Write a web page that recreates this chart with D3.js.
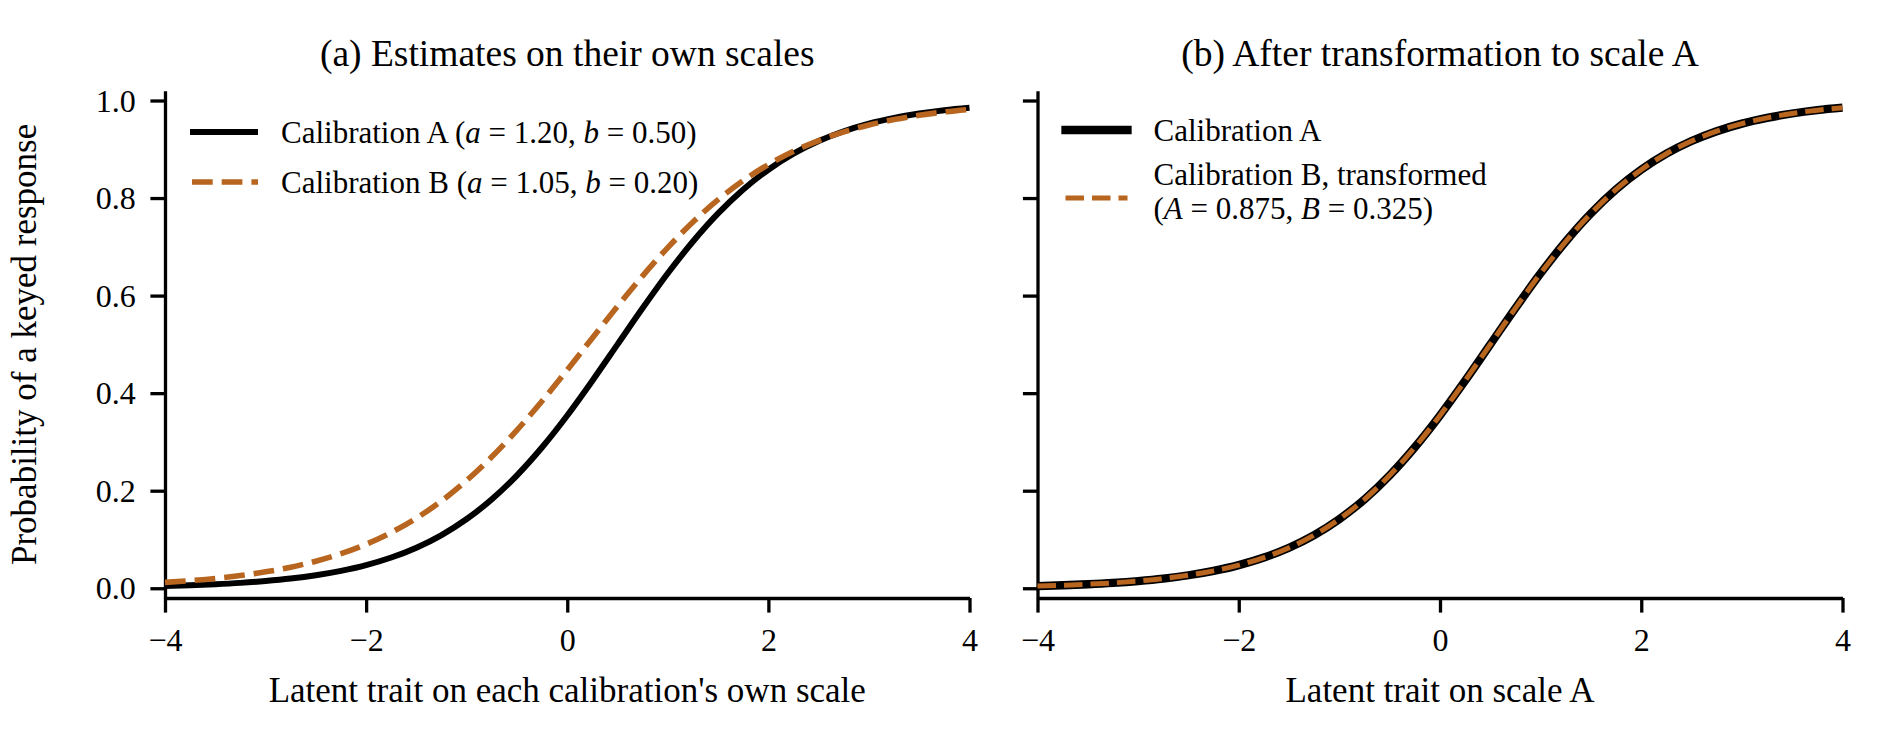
<!DOCTYPE html>
<html>
<head>
<meta charset="utf-8">
<script src="https://cdn.jsdelivr.net/npm/d3@7"></script>
<style>
  body { margin: 0; background: #fff; }
  svg text { font-family: "Liberation Serif", "Times New Roman", serif; fill: #000; }
</style>
</head>
<body>
<script>
// latent trait grid
const theta = [-4, -3.75, -3.5, -3.25, -3, -2.75, -2.5, -2.25, -2, -1.75, -1.5, -1.25, -1, -0.75, -0.5, -0.25,
  0, 0.25, 0.5, 0.75, 1, 1.25, 1.5, 1.75, 2, 2.25, 2.5, 2.75, 3, 3.25, 3.5, 3.75, 4]

// calibration A curve (panel a, solid black)
const probA = [0.0045, 0.0061, 0.0082, 0.0110, 0.0148, 0.0198, 0.0266, 0.0356, 0.0474, 0.0630, 0.0832, 0.1091,
  0.1419, 0.1824, 0.2315, 0.2891, 0.3543, 0.4256, 0.5000, 0.5744, 0.6457, 0.7109, 0.7685, 0.8176, 0.8581,
  0.8909, 0.9168, 0.9370, 0.9526, 0.9644, 0.9734, 0.9802, 0.9852]

// calibration B curve on its own scale (panel a, dashed)
const probB = [0.0120, 0.0156, 0.0201, 0.0260, 0.0336, 0.0432, 0.0555, 0.0709, 0.0903, 0.1143, 0.1437, 0.1791,
  0.2210, 0.2694, 0.3241, 0.3840, 0.4477, 0.5131, 0.5781, 0.6405, 0.6985, 0.7508, 0.7966, 0.8358, 0.8687,
  0.8959, 0.9179, 0.9357, 0.9498, 0.9609, 0.9697, 0.9765, 0.9818]

// calibration B after transformation to scale A (panel b, dashed)
const probBOnA = [0.0045, 0.0061, 0.0082, 0.0110, 0.0148, 0.0198, 0.0266, 0.0356, 0.0474, 0.0630, 0.0832, 0.1091,
  0.1419, 0.1824, 0.2315, 0.2891, 0.3543, 0.4256, 0.5000, 0.5744, 0.6457, 0.7109, 0.7685, 0.8176, 0.8581,
  0.8909, 0.9168, 0.9370, 0.9526, 0.9644, 0.9734, 0.9802, 0.9852]

const xTicks = [-4, -2, 0, 2, 4]
const yTicks = [0, 0.2, 0.4, 0.6, 0.8, 1.0]

const panelTitles = ['(a) Estimates on their own scales', '(b) After transformation to scale A']
const xLabels = ["Latent trait on each calibration's own scale", 'Latent trait on scale A']
const yLabel = 'Probability of a keyed response'

// legend text pieces, italic parts flagged
const legendA1 = [['Calibration A (', 0], ['a', 1], [' = 1.20, ', 0], ['b', 1], [' = 0.50)', 0]]
const legendA2 = [['Calibration B (', 0], ['a', 1], [' = 1.05, ', 0], ['b', 1], [' = 0.20)', 0]]
const legendB1 = [['Calibration A', 0]]
const legendB2a = [['Calibration B, transformed', 0]]
const legendB2b = [['(', 0], ['A', 1], [' = 0.875, ', 0], ['B', 1], [' = 0.325)', 0]]

const w = 1890
const h = 750
const orange = '#b8651f'
const spineW = 3.3
const tickLen = 14.6

const svg = d3.select('body')
  .append('svg')
  .attr('width', w)
  .attr('height', h)

const yScale = d3.scaleLinear()
  .domain([-0.02, 1.02])
  .range([598, 90.75])

const panels = [
  { left: 165, right: 969.5, showY: true },
  { left: 1037.5, right: 1842.5, showY: false }
]

function addText(g, pieces, x, y, size) {
  const t = g.append('text')
    .attr('x', x)
    .attr('y', y)
    .attr('dy', '0.35em')
    .style('font-size', size + 'px')
  pieces.forEach(p => {
    t.append('tspan')
      .style('font-style', p[1] ? 'italic' : 'normal')
      .text(p[0])
  })
  return t
}

panels.forEach((p, i) => {
  const xScale = d3.scaleLinear()
    .domain([-4, 4])
    .range([p.left, p.right])

  const line = d3.line()
    .x((d, k) => xScale(theta[k]))
    .y(d => yScale(d))
    .curve(d3.curveMonotoneX)

  // axes
  const xAxis = svg.append('g')
    .attr('transform', `translate(0,${yScale(-0.02)})`)
    .call(d3.axisBottom(xScale)
      .tickValues(xTicks)
      .tickFormat(d3.format('d'))
      .tickSize(tickLen)
      .tickSizeOuter(0)
      .tickPadding(16))

  const yAxis = svg.append('g')
    .attr('transform', `translate(${p.left},0)`)
    .call(d3.axisLeft(yScale)
      .tickValues(yTicks)
      .tickFormat(p.showY ? d3.format('.1f') : '')
      .tickSize(tickLen)
      .tickSizeOuter(0)
      .tickPadding(14.6))

  ;[xAxis, yAxis].forEach(a => {
    a.attr('font-family', null).attr('font-size', null)
    a.select('.domain').attr('stroke', '#000').attr('stroke-width', spineW)
    a.selectAll('.tick line').attr('stroke', '#000').attr('stroke-width', spineW)
    a.selectAll('.tick text').style('font-size', '32px')
  })
  yAxis.selectAll('.tick text').attr('dy', '0.33em')

  // curves
  if (i === 0) {
    svg.append('path')
      .datum(probA)
      .attr('d', line)
      .attr('fill', 'none')
      .attr('stroke', '#000')
      .attr('stroke-width', 6)
    svg.append('path')
      .datum(probB)
      .attr('d', line)
      .attr('fill', 'none')
      .attr('stroke', orange)
      .attr('stroke-width', 5.6)
      .attr('stroke-dasharray', '20.7,9')
  } else {
    svg.append('path')
      .datum(probA)
      .attr('d', line)
      .attr('fill', 'none')
      .attr('stroke', '#000')
      .attr('stroke-width', 8.3)
    svg.append('path')
      .datum(probBOnA)
      .attr('d', line)
      .attr('fill', 'none')
      .attr('stroke', orange)
      .attr('stroke-width', 5)
      .attr('stroke-dasharray', '18.5,8')
  }

  // title and x label
  svg.append('text')
    .attr('x', (p.left + p.right) / 2)
    .attr('y', 66)
    .attr('text-anchor', 'middle')
    .style('font-size', '37.5px')
    .text(panelTitles[i])

  svg.append('text')
    .attr('x', (p.left + p.right) / 2)
    .attr('y', 702)
    .attr('text-anchor', 'middle')
    .style('font-size', '35px')
    .text(xLabels[i])

  // legend
  const lg = svg.append('g')
  const hx0 = p.left + 28
  const hx1 = p.left + 90
  const tx = p.left + 116
  if (i === 0) {
    lg.append('line').attr('x1', hx0).attr('x2', hx1).attr('y1', 132).attr('y2', 132)
      .attr('stroke', '#000').attr('stroke-width', 6).attr('stroke-linecap', 'square')
    lg.append('line').attr('x1', hx0 - 1).attr('x2', hx1 + 3).attr('y1', 182).attr('y2', 182)
      .attr('stroke', orange).attr('stroke-width', 5.6).attr('stroke-dasharray', '20.7,9')
    addText(lg, legendA1, tx, 132, 31)
    addText(lg, legendA2, tx, 182, 31)
  } else {
    lg.append('line').attr('x1', hx0).attr('x2', hx1).attr('y1', 130).attr('y2', 130)
      .attr('stroke', '#000').attr('stroke-width', 8.3).attr('stroke-linecap', 'square')
    lg.append('line').attr('x1', hx0).attr('x2', hx1).attr('y1', 198).attr('y2', 198)
      .attr('stroke', orange).attr('stroke-width', 5).attr('stroke-dasharray', '18.5,8')
    addText(lg, legendB1, tx, 130, 31)
    addText(lg, legendB2a, tx, 174, 31)
    addText(lg, legendB2b, tx, 208, 31)
  }
})

// shared y label
svg.append('text')
  .attr('transform', `translate(36,${yScale(0.5)}) rotate(-90)`)
  .attr('text-anchor', 'middle')
  .style('font-size', '35px')
  .text(yLabel)
</script>
</body>
</html>
